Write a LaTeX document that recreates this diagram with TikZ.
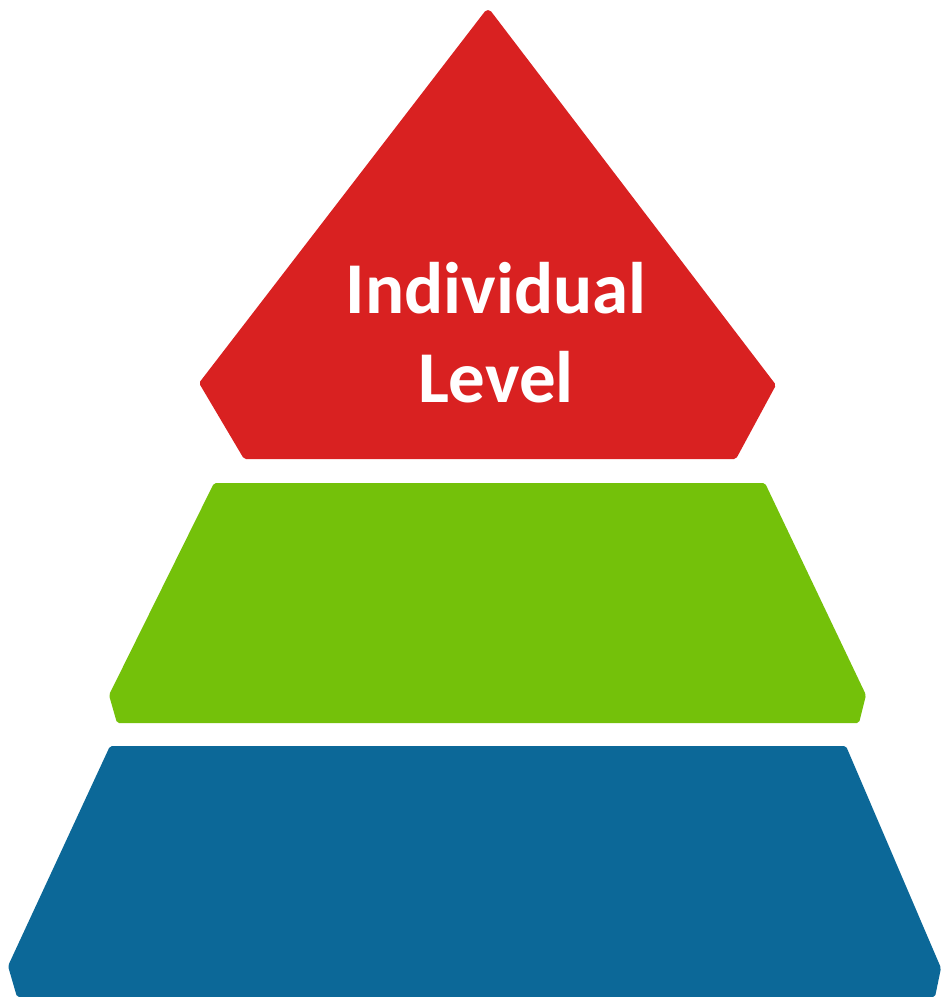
\documentclass[tikz,border=0pt]{standalone}
\usepackage{fontspec}
\setmainfont{Carlito}
\definecolor{topred}{RGB}{217,33,33}
\definecolor{midgreen}{RGB}{116,193,10}
\definecolor{basblue}{RGB}{12,104,152}
\begin{document}
\begin{tikzpicture}[x=1pt,y=-1pt,
  tier/.style={draw=none,rounded corners=2pt}]
\useasboundingbox (0,0) rectangle (941,997);
\fill[white] (0,0) rectangle (941,997);
% top tier
\fill[tier,fill=topred] (486,10) -- (490,10) -- (776,385) -- (736,459) -- (244,459) -- (199,383) -- cycle;
% middle tier
\fill[tier,fill=midgreen] (214,483) -- (765,483) -- (866,695) -- (859,723) -- (117,723) -- (109,695) -- cycle;
% bottom tier
\fill[tier,fill=basblue] (110,746) -- (846,746) -- (941,968) -- (935,997) -- (17,997) -- (8,966) -- cycle;
\node[text=white,font=\bfseries\fontsize{73}{89}\selectfont,align=center,inner sep=0pt,anchor=base]
  (lbl) at (496,402) {Individual\\Level};
\end{tikzpicture}
\end{document}
